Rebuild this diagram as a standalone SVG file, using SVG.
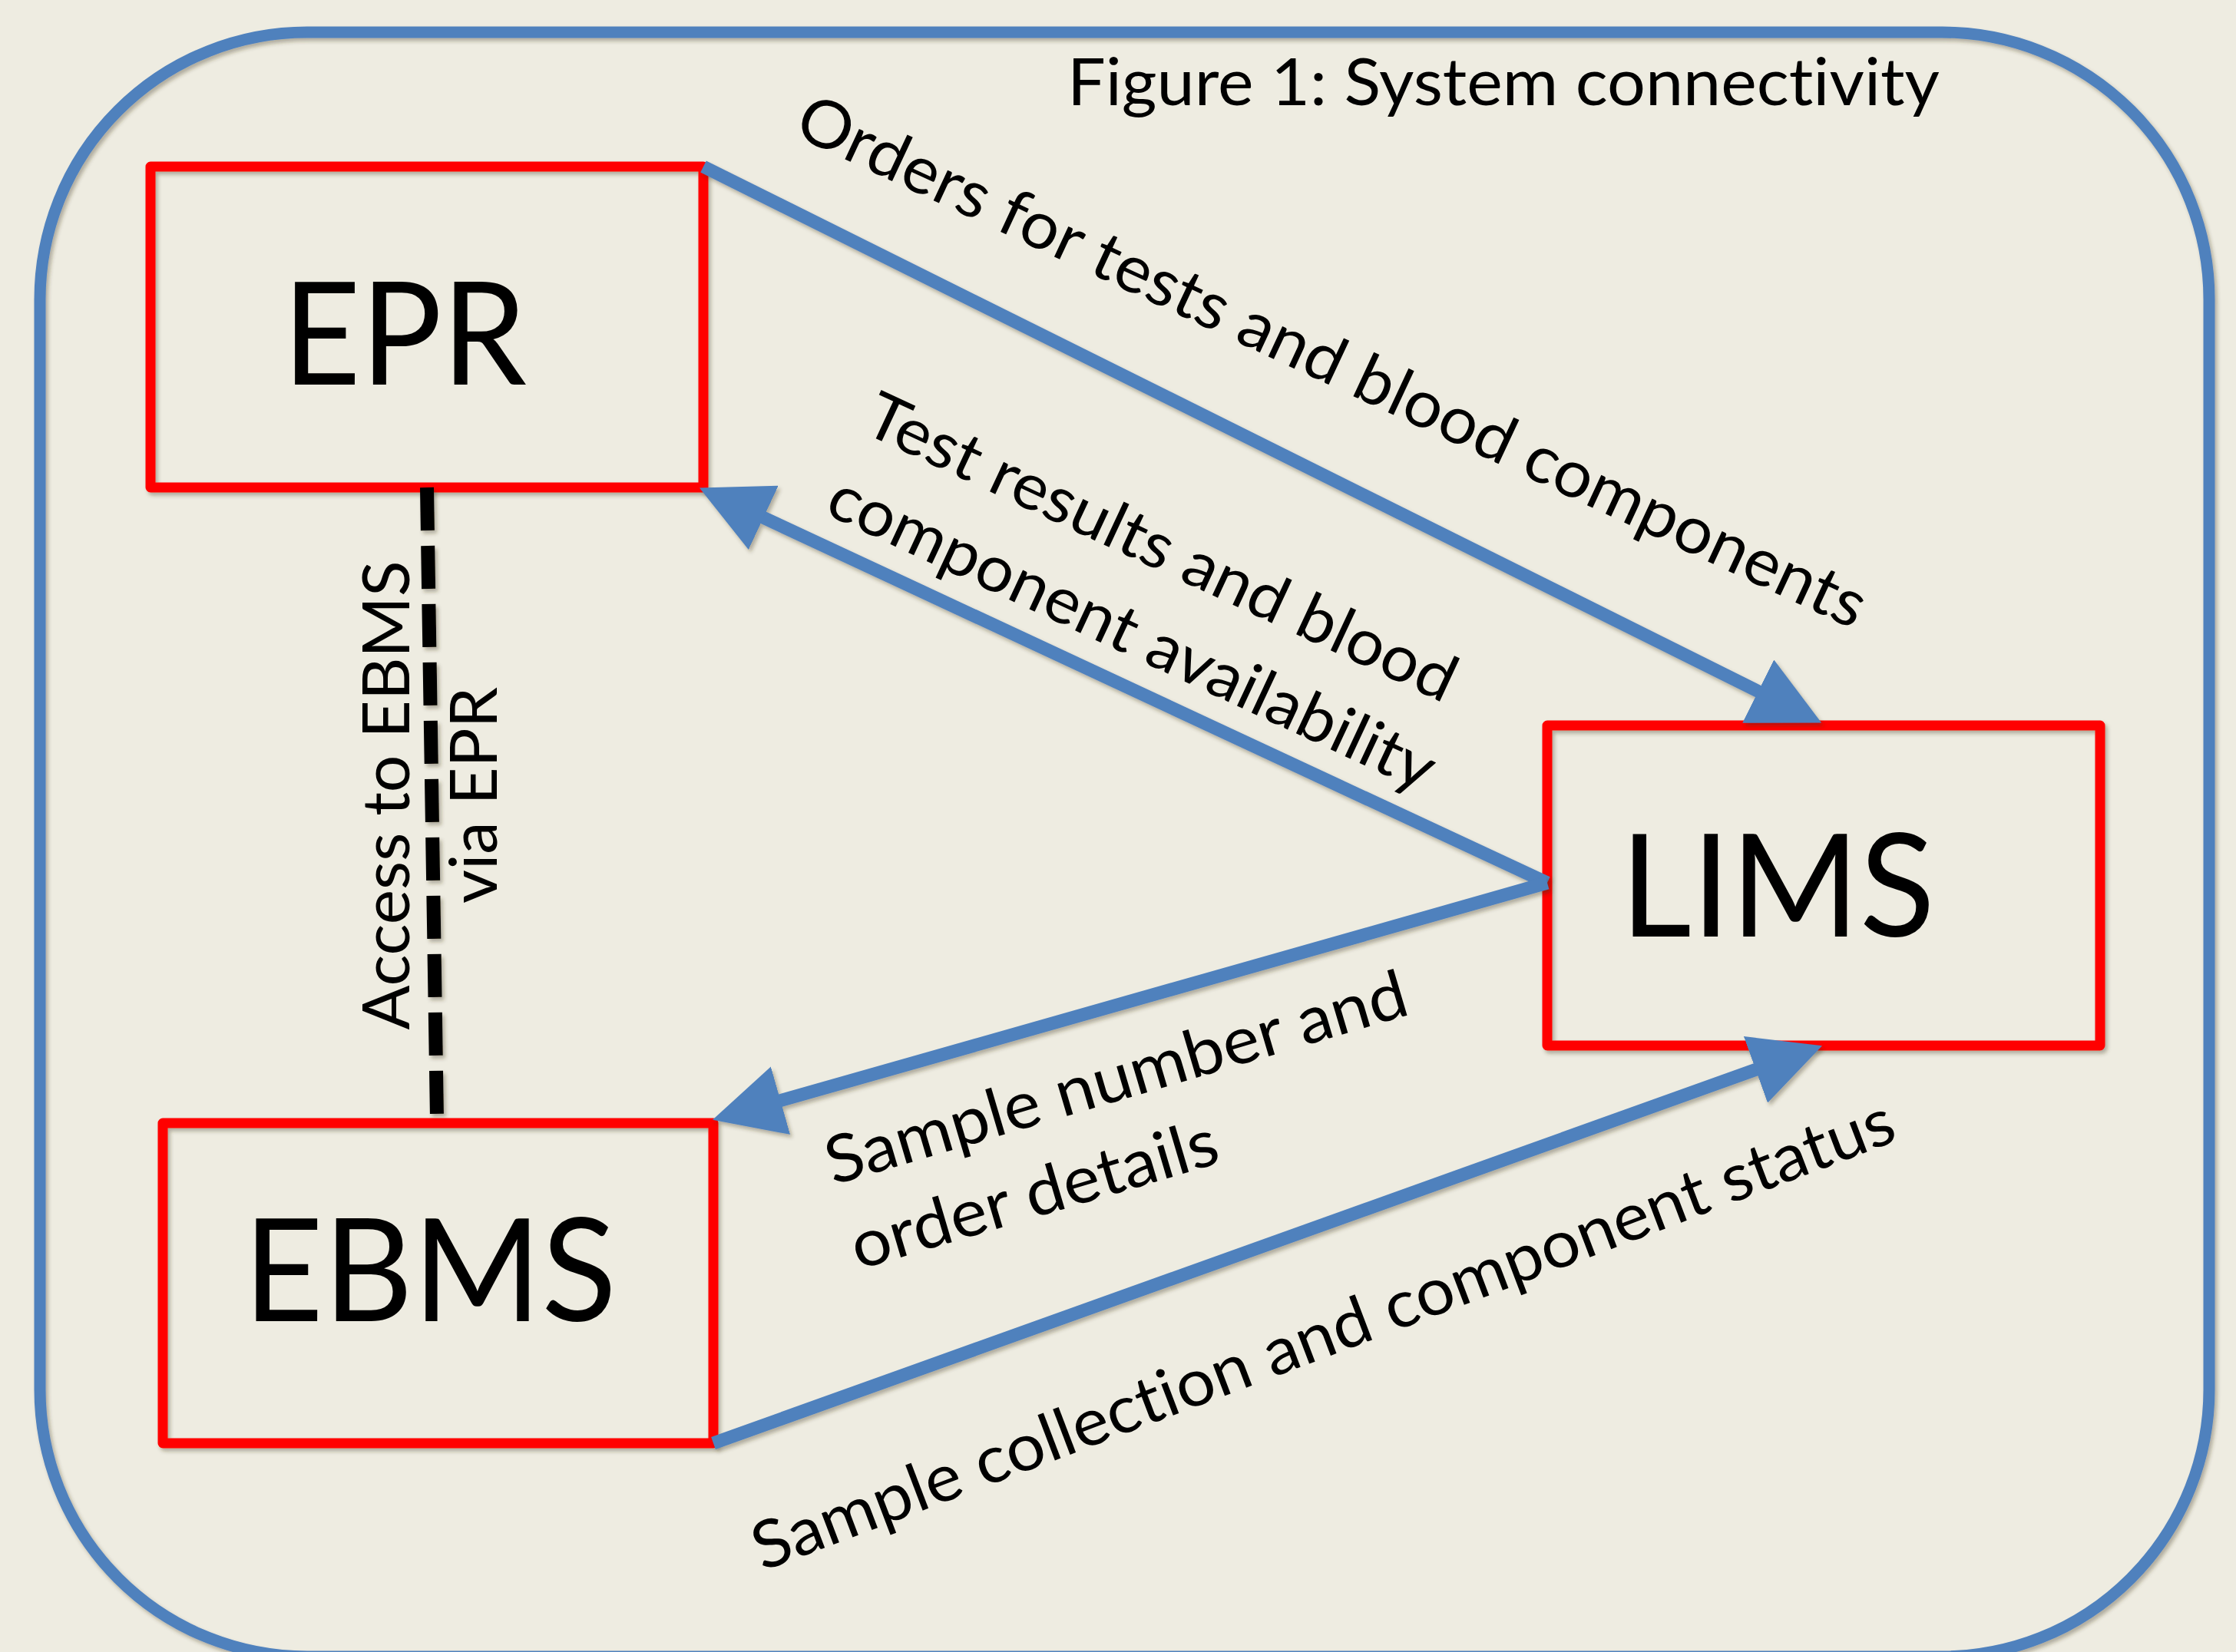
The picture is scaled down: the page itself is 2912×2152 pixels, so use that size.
<svg xmlns="http://www.w3.org/2000/svg" width="2912" height="2152" viewBox="0 0 2912 2152">
  <style>
    .txt { font-family: Lato, "Open Sans", "Liberation Sans", sans-serif; fill: #000000; font-variant-ligatures: none; font-feature-settings: "liga" 0, "clig" 0; }
    .sm { font-size: 86px; }
    .big { font-size: 187px; }
    .frame { fill: none; stroke: #4F81BD; stroke-width: 15; }
    .box { fill: none; stroke: #FF0000; stroke-width: 13; stroke-linejoin: round; }
    .flow { fill: none; stroke: #4F81BD; stroke-width: 17; marker-end: url(#arrow); }
    .link { fill: none; stroke: #000000; stroke-width: 18; stroke-dasharray: 56 20; }
  </style>
  <defs>
    <filter id="shadow" filterUnits="userSpaceOnUse" x="0" y="0" width="2912" height="2152">
      <feDropShadow dx="3" dy="4" stdDeviation="2.5" flood-color="#3a3020" flood-opacity="0.35"/>
    </filter>
    <marker id="arrow" markerUnits="userSpaceOnUse" markerWidth="92" markerHeight="92" viewBox="0 0 92 92" refX="1" refY="46" orient="auto">
      <path d="M0,0 L92,46 L0,92 Z" fill="#4F81BD"/>
    </marker>
  </defs>

  <!-- page background -->
  <rect x="0" y="0" width="2912" height="2152" fill="#EEECE1"/>

  <!-- rounded outer frame -->
  <rect class="frame" x="52" y="42" width="2825" height="2116" rx="348" ry="348" filter="url(#shadow)"/>

  <text class="txt sm" x="1390" y="137" textLength="1136" lengthAdjust="spacingAndGlyphs">Figure 1: System connectivity</text>

  <!-- systems -->
  <g id="node-epr">
    <rect class="box" x="196" y="217" width="720" height="418" filter="url(#shadow)"/>
    <text class="txt big" x="527" y="501" text-anchor="middle" textLength="318" lengthAdjust="spacingAndGlyphs">EPR</text>
  </g>
  <g id="node-lims">
    <rect class="box" x="2015" y="945" width="720" height="417" filter="url(#shadow)"/>
    <text class="txt big" x="2315" y="1220" text-anchor="middle" textLength="410" lengthAdjust="spacingAndGlyphs">LIMS</text>
  </g>
  <g id="node-ebms">
    <rect class="box" x="212" y="1463" width="717" height="417" filter="url(#shadow)"/>
    <text class="txt big" x="560" y="1721" text-anchor="middle" textLength="486" lengthAdjust="spacingAndGlyphs">EBMS</text>
  </g>

  <!-- data flows between systems -->
  <g id="connectors">
    <line class="flow" x1="916" y1="217" x2="2290.6" y2="901" filter="url(#shadow)"/>
    <line class="flow" x1="2015" y1="1150" x2="993.4" y2="673.9" filter="url(#shadow)"/>
    <line class="flow" x1="2015" y1="1150" x2="1015.5" y2="1433.9" filter="url(#shadow)"/>
    <line class="flow" x1="929" y1="1880" x2="2287.4" y2="1393" filter="url(#shadow)"/>
    <line class="link" x1="556" y1="635" x2="569" y2="1456" filter="url(#shadow)"/>
  </g>

  <!-- flow labels -->
  <g id="connector-labels">
    <g transform="translate(1031,175) rotate(25)">
      <text class="txt sm" x="0" y="0" textLength="1526" lengthAdjust="spacingAndGlyphs">Orders for tests and blood components</text>
    </g>
    <g transform="translate(1121,562) rotate(25)">
      <text class="txt" font-size="84" x="0" y="0" textLength="838" lengthAdjust="spacingAndGlyphs">Test results and blood</text>
      <text class="txt" font-size="84" x="0" y="117" textLength="862" lengthAdjust="spacingAndGlyphs">component availability</text>
    </g>
    <g transform="translate(1085,1544) rotate(-16.5)">
      <text class="txt sm" x="0" y="0" textLength="786" lengthAdjust="spacingAndGlyphs">Sample number and</text>
      <text class="txt sm" x="0" y="115" textLength="495" lengthAdjust="spacingAndGlyphs">order details</text>
    </g>
    <g transform="translate(993,2047) rotate(-20.8)">
      <text class="txt sm" x="0" y="0" textLength="1584" lengthAdjust="spacingAndGlyphs">Sample collection and component status</text>
    </g>
    <g transform="translate(533,1036) rotate(-90)">
      <text class="txt sm" x="0" y="0" text-anchor="middle" textLength="611" lengthAdjust="spacingAndGlyphs">Access to EBMS</text>
      <text class="txt sm" x="0" y="114" text-anchor="middle" textLength="282" lengthAdjust="spacingAndGlyphs">via EPR</text>
    </g>
  </g>
</svg>
